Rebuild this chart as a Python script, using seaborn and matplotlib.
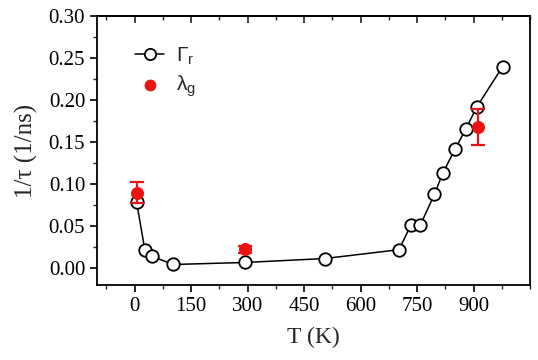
import matplotlib
matplotlib.use("Agg")
import matplotlib.pyplot as plt
import seaborn as sns
import pandas as pd
from matplotlib.ticker import MultipleLocator

T_r = [5, 27, 45, 102, 294, 505, 702, 734, 759, 796, 818, 851, 880, 909, 977]
G_r = [0.079, 0.022, 0.0143, 0.0044, 0.0068, 0.0115, 0.022, 0.0516, 0.0516, 0.0877, 0.1127, 0.1417, 0.166, 0.192, 0.2396]

T_g = [5, 294, 911]
L_g = [0.090, 0.0226, 0.168]
L_err = [0.013, 0.004, 0.021]

sns.set_theme(style="ticks")
plt.rcParams['font.family'] = ['Liberation Serif', 'DejaVu Serif']

fig = plt.figure(figsize=(5.38, 3.6), dpi=100)
ax = fig.add_axes([97/538, 1-285/360, (530-97)/538, (285-16)/360])

df_r = pd.DataFrame({"T": T_r, "v": G_r})
df_g = pd.DataFrame({"T": T_g, "v": L_g})

sns.lineplot(data=df_r, x="T", y="v", ax=ax, color="black", lw=1.1, marker="o",
             markersize=9, markerfacecolor="white", markeredgecolor="black",
             markeredgewidth=1.3, label=r"$\mathregular{\Gamma_r}$", zorder=3)
ax.errorbar(T_g, L_g, yerr=L_err, fmt="none", ecolor="#e8141a", elinewidth=1.6,
            capsize=5, capthick=1.6, zorder=4)
sns.scatterplot(data=df_g, x="T", y="v", ax=ax, color="#ee1111", s=75,
                edgecolor="#ee1111", label=r"$\mathregular{\lambda_g}$", zorder=5)

ax.set_xlim(-100, 1050)
ax.set_ylim(-0.02, 0.30)
ax.xaxis.set_major_locator(MultipleLocator(150))
ax.xaxis.set_minor_locator(MultipleLocator(75))
ax.yaxis.set_major_locator(MultipleLocator(0.05))
ax.yaxis.set_minor_locator(MultipleLocator(0.025))
ax.yaxis.set_major_formatter(matplotlib.ticker.FormatStrFormatter("%.2f"))
ax.set_xticks([0, 150, 300, 450, 600, 750, 900])

for s in ax.spines.values():
    s.set_linewidth(1.3)
    s.set_color("black")
ax.tick_params(which="major", direction="out", length=5, width=1.2, labelsize=15, colors="black")
ax.tick_params(which="minor", direction="out", length=3, width=1.0)

sec = ax.secondary_xaxis("top")
sec.xaxis.set_major_locator(MultipleLocator(150))
sec.xaxis.set_minor_locator(MultipleLocator(75))
sec.set_xticks([0, 150, 300, 450, 600, 750, 900])
sec.tick_params(which="major", direction="in", length=5, width=1.2, labeltop=False)
sec.tick_params(which="minor", direction="in", length=3, width=1.0, labeltop=False)
sec.spines["top"].set_linewidth(1.3)

ax.set_xlabel("T (K)", fontsize=17, labelpad=8)
ax.set_ylabel("1/τ (1/ns)", fontsize=18, labelpad=8)

leg = ax.legend(loc="upper left", bbox_to_anchor=(0.045, 0.96), frameon=False,
                prop={"family": "Liberation Sans", "size": 15},
                handlelength=1.4, handletextpad=0.55, labelspacing=0.3,
                markerscale=0.9)

fig.savefig("out.png", dpi=100)
